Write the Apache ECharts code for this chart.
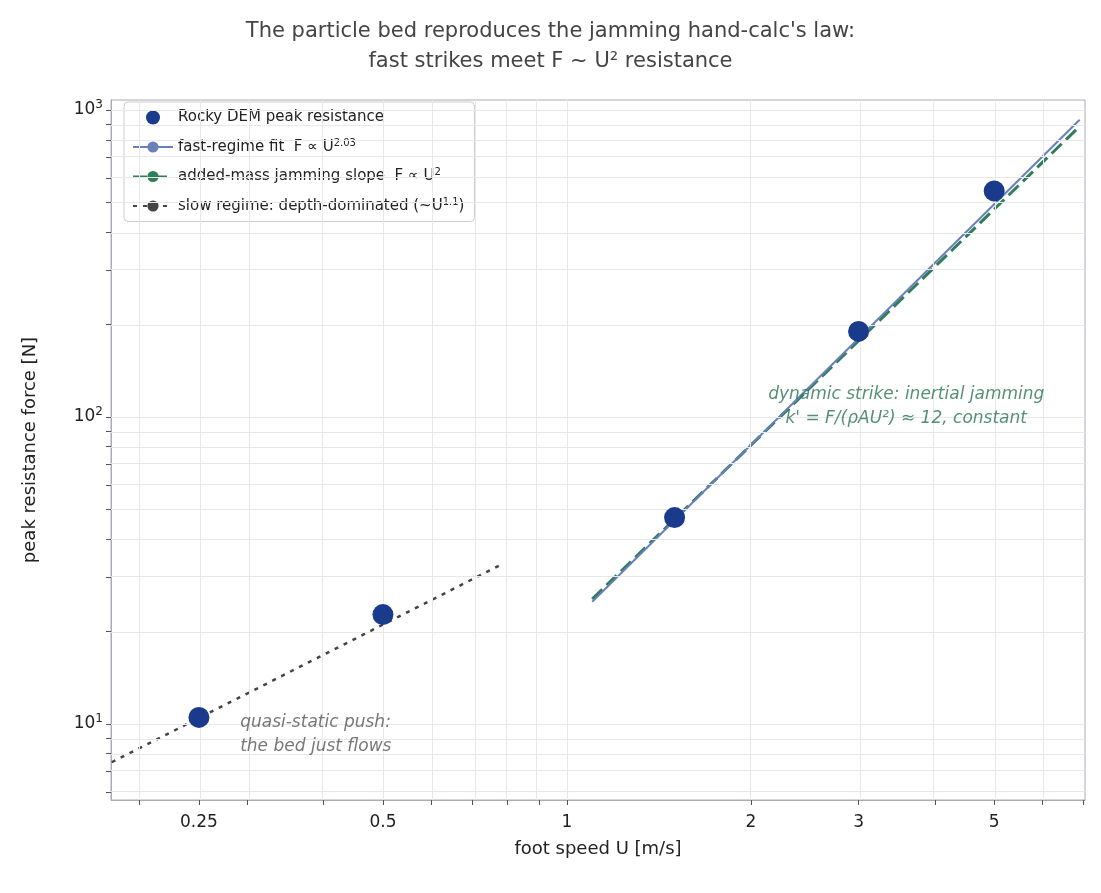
<!DOCTYPE html>
<html>
<head>
<meta charset="UTF-8">
<title>particle bed</title>
<script src="https://cdn.jsdelivr.net/npm/echarts@6/dist/echarts.min.js"></script>
</head>
<body style="margin:0">
<div id="main" style="width:1101px;height:893px"></div>
<script>
// data (real units, plotted on log10 axes)
var demU = [0.25, 0.5, 1.5, 3, 5];
var demF = [10.5, 22.7, 47, 190, 545];
var fitU = [1.1, 6.9];
var fitF = [25, 930];
var jamU = [1.1, 6.9];
var jamF = [25.5, 885];
var slowU = [0.18, 0.78];
var slowF = [7.5, 33];
var xTicks = [0.25, 0.5, 1, 2, 3, 5];
var yTicks = [10, 100, 1000];
var xMinor = [0.2, 0.3, 0.4, 0.6, 0.7, 0.8, 0.9, 4, 6, 7];
var yMinor = [6, 7, 8, 9, 20, 30, 40, 50, 60, 70, 80, 90, 200, 300, 400, 500, 600, 700, 800, 900];

var L = Math.log10;
function pts(xs, ys) { return xs.map(function (x, i) { return [L(x), L(ys[i])]; }); }

var minorLines = [];
xTicks.concat(xMinor).forEach(function (v) { minorLines.push({xAxis: L(v)}); });
yTicks.concat(yMinor).forEach(function (v) { minorLines.push({yAxis: L(v)}); });

var option = {
    backgroundColor: '#fff',
    title: {
        text: "The particle bed reproduces the jamming hand-calc's law:\nfast strikes meet F ~ U² resistance",
        left: 'center', top: 12,
        textStyle: {color: '#444', fontSize: 21, fontWeight: 'normal', lineHeight: 30, fontFamily: 'DejaVu Sans'}
    },
    grid: {left: 111, right: 16, top: 100, bottom: 93, show: true, borderColor: '#aab', borderWidth: 1},
    legend: {
        orient: 'vertical', left: 124, top: 102, itemGap: 13,
        backgroundColor: '#fff', borderColor: '#ccc', borderWidth: 1, borderRadius: 4, padding: [8, 10, 8, 8],
        itemWidth: 40, itemHeight: 14,
        textStyle: {fontSize: 15, color: '#222', fontFamily: 'DejaVu Sans',
            rich: {s: {fontSize: 10, verticalAlign: 'top', padding: [0, 0, 8, 0], color: '#222'}}},
        formatter: function (n) {
            if (n === 'fit') return 'fast-regime fit  F ∝ U{s|2.03}';
            if (n === 'jam') return 'added-mass jamming slope  F ∝ U{s|2}';
            if (n === 'slow') return 'slow regime: depth-dominated (~U{s|1.1})';
            return n;
        },
        data: ['Rocky DEM peak resistance', 'fit', 'jam', 'slow']
    },
    xAxis: {
        type: 'value', min: L(0.1795), max: L(7.04),
        name: 'foot speed U [m/s]', nameLocation: 'middle', nameGap: 40,
        nameTextStyle: {fontSize: 18, color: '#222', fontFamily: 'DejaVu Sans'},
        axisLine: {onZero: false, lineStyle: {color: '#aab'}},
        splitLine: {show: false},
        axisTick: {customValues: xTicks.concat(xMinor).map(L), length: 5, lineStyle: {color: '#555'}},
        axisLabel: {customValues: xTicks.map(L), fontSize: 17, color: '#222', margin: 14, fontFamily: 'DejaVu Sans',
            formatter: function (v) { return String(Math.round(Math.pow(10, v) * 100) / 100); }}
    },
    yAxis: {
        type: 'value', min: L(5.65), max: L(1078),
        name: 'peak resistance force [N]', nameLocation: 'middle', nameGap: 72,
        nameTextStyle: {fontSize: 18, color: '#222', fontFamily: 'DejaVu Sans'},
        axisLine: {show: true, onZero: false, lineStyle: {color: '#aab'}},
        splitLine: {show: false},
        axisTick: {show: true, customValues: yTicks.concat(yMinor).map(L), length: 5, lineStyle: {color: '#555'}},
        axisLabel: {customValues: yTicks.map(L), fontSize: 17, color: '#222', fontFamily: 'DejaVu Sans',
            rich: {s: {fontSize: 12, verticalAlign: 'top', padding: [0, 0, 10, 0], color: '#222'}},
            formatter: function (v) { return '10{s|' + Math.round(v) + '}'; }}
    },
    series: [
        {type: 'line', data: [], silent: true,
            markLine: {silent: true, symbol: 'none', label: {show: false},
                lineStyle: {color: '#e8e8e8', type: 'solid', width: 1}, data: minorLines}},
        {name: 'slow', type: 'line', data: pts(slowU, slowF), showSymbol: false, symbol: 'none', z: 3,
            lineStyle: {color: '#444', width: 2.5, type: [4, 6]}, itemStyle: {color: '#444'}},
        {name: 'jam', type: 'line', data: pts(jamU, jamF), showSymbol: false, symbol: 'none', z: 3,
            lineStyle: {color: '#2e7d5b', width: 3, type: [14, 6]}, itemStyle: {color: '#2e7d5b'}},
        {name: 'fit', type: 'line', data: pts(fitU, fitF), showSymbol: false, symbol: 'none', z: 4,
            lineStyle: {color: '#6a80b9', width: 2}, itemStyle: {color: '#6a80b9'}},
        {name: 'Rocky DEM peak resistance', type: 'scatter', data: pts(demU, demF), z: 5,
            symbolSize: 21, itemStyle: {color: '#1a3a8c', opacity: 1}},
        {type: 'scatter', symbolSize: 0, silent: true, z: 6,
            data: [
                {value: [L(3.59), L(108)], label: {show: true, position: 'inside', align: 'center',
                    formatter: 'dynamic strike: inertial jamming\nk\' = F/(ρAU²) ≈ 12, constant',
                    color: '#2a7352', fontStyle: 'italic', fontSize: 17, lineHeight: 24, fontFamily: 'DejaVu Sans'}},
                {value: [L(0.292), L(9.2)], label: {show: true, position: 'inside', align: 'left',
                    formatter: 'quasi-static push:\nthe bed just flows',
                    color: '#555', fontStyle: 'italic', fontSize: 17, lineHeight: 24, fontFamily: 'DejaVu Sans'}}
            ]}
    ]
};
var myChart = echarts.init(document.getElementById('main'));
myChart.setOption(option);
</script>
</body>
</html>
